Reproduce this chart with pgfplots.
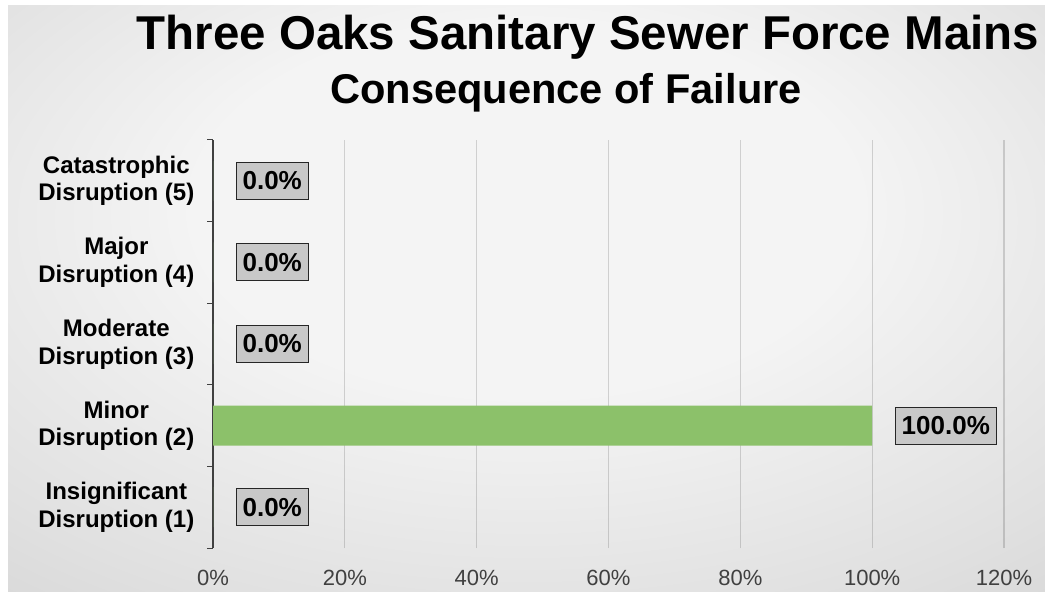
\documentclass[border=0pt]{standalone}
\usepackage{pgfplots}
\pgfplotsset{compat=1.18}
\usepackage{fontspec}
\setmainfont{Liberation Sans}
\definecolor{axisgray}{HTML}{404040}
\definecolor{tickgray}{HTML}{404040}
\definecolor{bargreen}{HTML}{8CC16A}
\definecolor{boxgray}{HTML}{C8C8C8}
\definecolor{bgA}{HTML}{F4F4F4}
\definecolor{bgB}{HTML}{E0E0E0}
\definecolor{bgC}{HTML}{CACACA}
\definecolor{bgD}{HTML}{BEBEBE}
\pgfdeclareradialshading{bgshade}{\pgfpoint{0bp}{10bp}}{%
  color(0bp)=(bgA); color(16bp)=(bgA); color(34bp)=(bgB); color(52bp)=(bgC); color(72bp)=(bgD)}
\begin{document}
\begin{tikzpicture}
\path[use as bounding box, fill=white] (0,0) rectangle (783.75pt,444pt);
\fill[shading=bgshade] (6pt,0pt) rectangle (783.75pt,439.5pt);
\node[anchor=base, font=\bfseries\fontsize{35.6}{40}\selectfont] at (441pt,406.5pt) {Three Oaks Sanitary Sewer Force Mains};
\node[anchor=base, font=\bfseries\fontsize{31.2}{36}\selectfont] at (424.5pt,366pt) {Consequence of Failure};
\begin{axis}[
  at={(159.75pt,33pt)}, anchor=south west,
  scale only axis, width=593.25pt, height=306pt,
  xbar, bar width=30pt,
  xmin=0, xmax=120, ymin=-0.5, ymax=4.5,
  xtick={0,20,...,120},
  xticklabel={\pgfmathprintnumber{\tick}\%},
  xticklabel style={font=\fontsize{16.5}{19}\selectfont, text=tickgray, anchor=base, yshift=-27.75pt},
  /pgf/number format/assume math mode=true,
  ytick={0,1,2,3,4},
  yticklabels={{Insignificant\\Disruption (1)},{Minor\\Disruption (2)},{Moderate\\Disruption (3)},{Major\\Disruption (4)},{Catastrophic\\Disruption (5)}},
  yticklabel style={font=\bfseries\fontsize{18}{20.7}\selectfont, align=center, anchor=center, xshift=-72.5pt},
  minor ytick={-0.5,0.5,...,4.5},
  major tick length=0pt, minor tick length=4.5pt,
  tick align=outside,
  tick style={axisgray, line width=0.75pt},
  minor tick style={axisgray, line width=0.75pt},
  axis lines*=left,
  x axis line style={draw=none},
  y axis line style={draw=axisgray, line width=1pt},
  xmajorgrids,
  major grid style={black, opacity=0.15, line width=0.9pt},
  nodes near coords={\pgfmathprintnumber[fixed, fixed zerofill, precision=1]{\pgfplotspointmeta}\%},
  nodes near coords style={anchor=west, xshift=17pt, font=\bfseries\fontsize{19.5}{22}\selectfont, fill=boxgray, draw=black!85, line width=0.75pt, inner xsep=4.8pt, inner ysep=0pt, minimum height=27.75pt, text=black},
  point meta=x,
  clip=false,
]
\addplot[draw=none, fill=bargreen] coordinates {(0,0) (100,1) (0,2) (0,3) (0,4)};
\end{axis}
\end{tikzpicture}
\end{document}
